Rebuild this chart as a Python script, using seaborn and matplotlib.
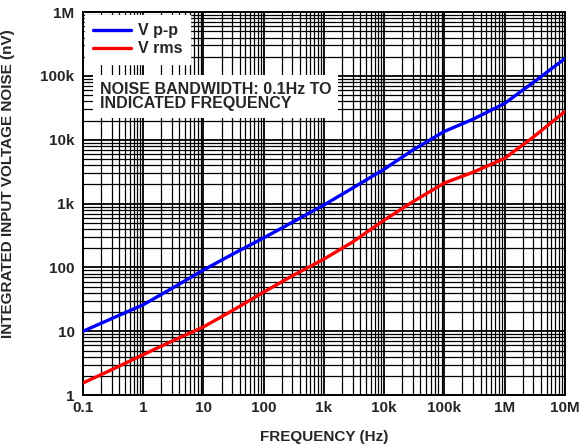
import numpy as np
import pandas as pd
import matplotlib
matplotlib.use("Agg")
import matplotlib.pyplot as plt
import seaborn as sns
from matplotlib.ticker import LogLocator, FixedLocator, FixedFormatter, NullFormatter

# -----------------------------
# Data
# -----------------------------
freq = [0.1, 0.3, 1, 3, 10, 30, 100, 300, 1e3, 3e3, 1e4, 3e4, 1e5, 3e5, 1e6, 3e6, 1e7]
v_pp = [10, 15.8, 26, 47, 91, 160, 290, 510, 950, 1750, 3450, 6900, 13500, 21000, 37000, 79000, 186000]
v_rms = [1.55, 2.5, 4.3, 7.0, 11.7, 21, 41, 74, 135, 250, 550, 1070, 2100, 3100, 5100, 11000, 27500]

x_ticks = [0.1, 1, 10, 100, 1e3, 1e4, 1e5, 1e6, 1e7]
x_labels = ["0.1", "1", "10", "100", "1k", "10k", "100k", "1M", "10M"]
y_ticks = [1, 10, 100, 1e3, 1e4, 1e5, 1e6]
y_labels = ["1", "10", "100", "1k", "10k", "100k", "1M"]

df = pd.DataFrame({
    "freq": freq * 2,
    "noise": v_pp + v_rms,
    "series": ["V p-p"] * len(freq) + ["V rms"] * len(freq),
})

sns.set_style("white")
plt.rcParams["font.family"] = ["Liberation Sans", "DejaVu Sans"]
plt.rcParams["font.weight"] = "bold"
plt.rcParams["axes.labelweight"] = "bold"

# -----------------------------
# Plot
# -----------------------------
fig = plt.figure(figsize=(5.84, 4.48), dpi=100)
ax = fig.add_axes([0.142, 0.118, 0.825, 0.855])

ax.set_xscale("log")
ax.set_yscale("log")

sns.lineplot(data=df, x="freq", y="noise", hue="series",
             palette={"V p-p": "#0000ff", "V rms": "#ff0000"},
             linewidth=2.4, ax=ax, legend=False, zorder=5)

ax.set_xlim(0.1, 1e7)
ax.set_ylim(1, 1e6)

# grid, major + minor, all black
ax.xaxis.set_major_locator(FixedLocator(x_ticks))
ax.xaxis.set_major_formatter(FixedFormatter(x_labels))
ax.yaxis.set_major_locator(FixedLocator(y_ticks))
ax.yaxis.set_major_formatter(FixedFormatter(y_labels))
ax.xaxis.set_minor_locator(LogLocator(base=10, subs=np.arange(2, 10), numticks=20))
ax.yaxis.set_minor_locator(LogLocator(base=10, subs=np.arange(2, 10), numticks=20))
ax.xaxis.set_minor_formatter(NullFormatter())
ax.yaxis.set_minor_formatter(NullFormatter())
ax.grid(which="major", color="black", linewidth=1.3)
ax.grid(which="minor", color="black", linewidth=0.9)
ax.tick_params(which="both", length=0, labelsize=11)
ax.tick_params(axis="x", pad=4)
ax.tick_params(axis="y", pad=6)
for s in ax.spines.values():
    s.set_color("black")
    s.set_linewidth(1.4)

ax.set_xlabel("FREQUENCY (Hz)", fontsize=11, fontweight="bold")
ax.set_ylabel("INTEGRATED INPUT VOLTAGE NOISE (nV)", fontsize=11, fontweight="bold")
ax.xaxis.set_label_coords(0.501, -0.09)
ax.yaxis.set_label_coords(-0.142, 0.553)

# legend
h1, = ax.plot([], [], color="#0000ff", lw=2.4, label="V p-p")
h2, = ax.plot([], [], color="#ff0000", lw=2.4, label="V rms")
leg = ax.legend(handles=[h1, h2], loc="upper left", bbox_to_anchor=(0.004, 0.992),
                frameon=True, fancybox=False, framealpha=1, edgecolor="white",
                prop={"family": "Liberation Sans", "weight": "bold", "size": 11.5},
                handlelength=2.4, handletextpad=0.4, labelspacing=0.2,
                borderpad=0.5, borderaxespad=0.0)
leg.set_zorder(10)

ax.text(0.035, 0.818, "NOISE BANDWIDTH: 0.1Hz TO\nINDICATED FREQUENCY",
        transform=ax.transAxes, ha="left", va="top", fontsize=11.5,
        fontweight="bold", linespacing=0.95, zorder=10,
        bbox=dict(facecolor="white", edgecolor="none", pad=5))

fig.savefig("out.png", dpi=100)
